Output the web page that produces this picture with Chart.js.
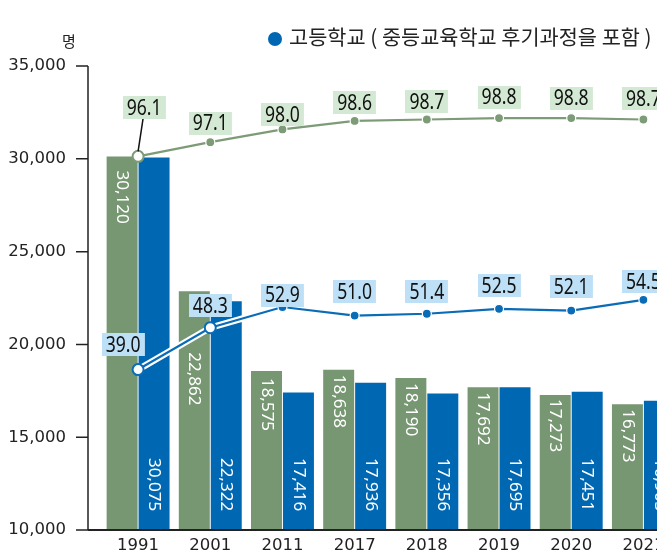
<!DOCTYPE html>
<html>
<head>
<meta charset="utf-8">
<script src="https://cdn.jsdelivr.net/npm/chart.js@4/dist/chart.umd.min.js"></script>
<style>
  html, body { margin: 0; padding: 0; background: #fff; overflow: hidden; width: 657px; height: 551px; }
  #wrap { position: relative; width: 687px; height: 576px; }
  #legend { position: absolute; left: 268px; top: 23px; font: 20.8px "Noto Sans CJK KR", "Noto Sans", sans-serif; color: #222; white-space: nowrap; line-height: 26px; }
  #legend .dot { display: inline-block; width: 14px; height: 14px; border-radius: 50%; margin-right: 7px; vertical-align: -1px; }
  #unit { position: absolute; left: 62px; top: 30px; font: 15px "Noto Sans CJK KR", "Noto Sans", sans-serif; color: #222; }
</style>
</head>
<body>
<div id="wrap">
  <canvas id="c" width="687" height="576"></canvas>
  <div id="unit">명</div>
  <div id="legend"></div>
</div>
<script>
// ---- data ----
const years = ['1991', '2001', '2011', '2017', '2018', '2019', '2020', '2021'];
const middleSchool = [30120, 22862, 18575, 18638, 18190, 17692, 17273, 16773];
const highSchool = [30075, 22322, 17416, 17936, 17356, 17695, 17451, 16965];
const middleRate = [96.1, 97.1, 98.0, 98.6, 98.7, 98.8, 98.8, 98.7];
const highRate = [39.0, 48.3, 52.9, 51.0, 51.4, 52.5, 52.1, 54.5];
const yTicks = [10000, 15000, 20000, 25000, 30000, 35000];

const GREEN = '#779672';
const BLUE = '#0068b3';
const GREEN_LINE = '#7c9b76';
const BLUE_LINE = '#0a6cb6';
const GREEN_TAG = '#d4e9d3';
const BLUE_TAG = '#bde0f6';

const fmt = v => v.toLocaleString('en-US');

// label placement (relative to marks)
const greenTagOffset = { dx: [6, 0, 0, 0, 0, 0, 0, 0], dy: [-49, -19, -15, -18, -18, -21, -20, -21] };
const blueTagOffset = { dx: [-15, 0, 0, 0, 0, 0, 0, 0], dy: [-25, -22, -12, -24, -22, -23, -24, -18] };
const greenBarLabelGap = [14, 61, 7, 5, 5, 5, 4, 5];

function drawTag(ctx, text, cx, cy, bg) {
  const sx = 0.8;
  ctx.save();
  ctx.font = '22px "Noto Sans", sans-serif';
  const tw = ctx.measureText(text).width * sx;
  const w = tw + 8, h = 23;
  ctx.fillStyle = bg;
  ctx.fillRect(Math.round(cx - w / 2), Math.round(cy - h / 2), w, h);
  ctx.translate(cx, cy);
  ctx.scale(sx, 1);
  ctx.fillStyle = '#111';
  ctx.textAlign = 'center';
  ctx.textBaseline = 'middle';
  ctx.fillText(text, 0, 1);
  ctx.restore();
}

const axesPlugin = {
  id: 'axesLines',
  afterDatasetsDraw(chart) {
    const ctx = chart.ctx, ys = chart.scales.y, ca = chart.chartArea;
    const ax = ca.left - 14;
    ctx.save();
    ctx.strokeStyle = '#222';
    ctx.lineWidth = 1.5;
    ctx.beginPath();
    ctx.moveTo(ax, ys.getPixelForValue(ys.max));
    ctx.lineTo(ax, ys.getPixelForValue(ys.min));
    ys.ticks.forEach(t => {
      const py = ys.getPixelForValue(t.value);
      ctx.moveTo(ax - 12, py);
      ctx.lineTo(ax, py);
    });
    ctx.stroke();
    ctx.lineWidth = 2;
    ctx.beginPath();
    const by = ys.getPixelForValue(ys.min);
    ctx.moveTo(ax, by);
    ctx.lineTo(ca.right + 10, by);
    ctx.stroke();
    ctx.restore();
  }
};

const barLabelPlugin = {
  id: 'barLabels',
  afterDatasetDraw(chart, args) {
    const idx = args.index;
    if (idx !== 0 && idx !== 1) return;
    const ctx = chart.ctx;
    const ds = chart.data.datasets[idx];
    const meta = chart.getDatasetMeta(idx);
    const ys = chart.scales.y;
    const basePx = ys.getPixelForValue(ys.min);
    ctx.save();
    ctx.font = '17px "Noto Sans", sans-serif';
    ctx.fillStyle = '#fff';
    ctx.textBaseline = 'middle';
    meta.data.forEach((bar, i) => {
      ctx.save();
      if (idx === 0) {
        ctx.translate(bar.x, bar.y + greenBarLabelGap[i]);
        ctx.rotate(Math.PI / 2);
        ctx.textAlign = 'left';
      } else {
        ctx.translate(bar.x, basePx - 19);
        ctx.rotate(Math.PI / 2);
        ctx.textAlign = 'right';
      }
      ctx.fillText(fmt(ds.data[i]), 0, 0);
      ctx.restore();
    });
    ctx.restore();
  }
};

const tagPlugin = {
  id: 'lineTags',
  afterDatasetsDraw(chart) {
    const ctx = chart.ctx;
    const gm = chart.getDatasetMeta(2);
    gm.data.forEach((pt, i) => {
      const cx = pt.x + greenTagOffset.dx[i], cy = pt.y + greenTagOffset.dy[i];
      if (i === 0) {
        ctx.save();
        ctx.strokeStyle = '#111';
        ctx.lineWidth = 1.5;
        ctx.beginPath();
        ctx.moveTo(pt.x, pt.y - 5);
        ctx.lineTo(cx - 1, cy + 11);
        ctx.stroke();
        ctx.restore();
      }
      drawTag(ctx, middleRate[i].toFixed(1), cx, cy, GREEN_TAG);
    });
    const bm = chart.getDatasetMeta(4);
    bm.data.forEach((pt, i) => {
      drawTag(ctx, highRate[i].toFixed(1), pt.x + blueTagOffset.dx[i], pt.y + blueTagOffset.dy[i], BLUE_TAG);
    });
  }
};

const chart = new Chart(document.getElementById('c'), {
  data: {
    labels: years,
    datasets: [
      {
        type: 'bar', label: '중학교', data: middleSchool, backgroundColor: GREEN,
        categoryPercentage: 0.885, barPercentage: 0.97, order: 4, yAxisID: 'y'
      },
      {
        type: 'bar', label: '고등학교 ( 중등교육학교 후기과정을 포함 )', data: highSchool, backgroundColor: BLUE,
        categoryPercentage: 0.885, barPercentage: 0.97, order: 5, yAxisID: 'y'
      },
      {
        type: 'line', label: '중학교 비율', data: middleRate, yAxisID: 'yG', order: 2,
        borderColor: GREEN_LINE, borderWidth: 2.2,
        pointRadius: [5.5, 4.5, 4.5, 4.5, 4.5, 4.5, 4.5, 4.5],
        pointBackgroundColor: ['#fff', GREEN_LINE, GREEN_LINE, GREEN_LINE, GREEN_LINE, GREEN_LINE, GREEN_LINE, GREEN_LINE],
        pointBorderColor: [GREEN_LINE, '#fff', '#fff', '#fff', '#fff', '#fff', '#fff', '#fff'],
        pointBorderWidth: [2, 1.2, 1.2, 1.2, 1.2, 1.2, 1.2, 1.2]
      },
      {
        type: 'line', label: 'halo', data: highRate, yAxisID: 'yB', order: 3,
        borderColor: '#fff', borderWidth: 6.5, pointRadius: 0
      },
      {
        type: 'line', label: '고등학교 비율', data: highRate, yAxisID: 'yB', order: 1,
        borderColor: BLUE_LINE, borderWidth: 2.2,
        pointRadius: [5.5, 5.5, 4.5, 4.5, 4.5, 4.5, 4.5, 4.5],
        pointBackgroundColor: ['#fff', '#fff', BLUE_LINE, BLUE_LINE, BLUE_LINE, BLUE_LINE, BLUE_LINE, BLUE_LINE],
        pointBorderColor: [BLUE_LINE, BLUE_LINE, '#fff', '#fff', '#fff', '#fff', '#fff', '#fff'],
        pointBorderWidth: [2, 2, 1.2, 1.2, 1.2, 1.2, 1.2, 1.2]
      }
    ]
  },
  options: {
    responsive: false,
    animation: false,
    devicePixelRatio: 1,
    layout: { padding: { top: 66, left: 0, right: 0, bottom: 0 } },
    plugins: { legend: { display: false }, tooltip: { enabled: false } },
    scales: {
      x: {
        type: 'category',
        offset: true,
        grid: { display: false, drawTicks: false },
        border: { display: false },
        ticks: { color: '#222', font: { family: '"DejaVu Sans"', size: 16.5 }, padding: 6, maxRotation: 0, autoSkip: false },
        afterFit(s) { s.height = 41; }
      },
      y: {
        type: 'linear', position: 'left',
        min: yTicks[0], max: yTicks[yTicks.length - 1],
        afterBuildTicks(s) { s.ticks = yTicks.map(v => ({ value: v })); },
        grid: { display: false, drawTicks: false },
        border: { display: false },
        ticks: { color: '#222', font: { family: '"DejaVu Sans"', size: 16.5 }, padding: 36, callback: v => fmt(v) },
        afterFit(s) { s.width = 102; }
      },
      yG: { type: 'linear', display: false, min: 69.7, max: 102.48 },
      yB: { type: 'linear', display: false, min: 3.33, max: 106.45 }
    }
  },
  plugins: [barLabelPlugin, axesPlugin, tagPlugin]
});

const lg = document.getElementById('legend');
const dot = document.createElement('span');
dot.className = 'dot';
dot.style.background = chart.data.datasets[1].backgroundColor;
lg.appendChild(dot);
lg.appendChild(document.createTextNode(chart.data.datasets[1].label));
</script>
</body>
</html>
